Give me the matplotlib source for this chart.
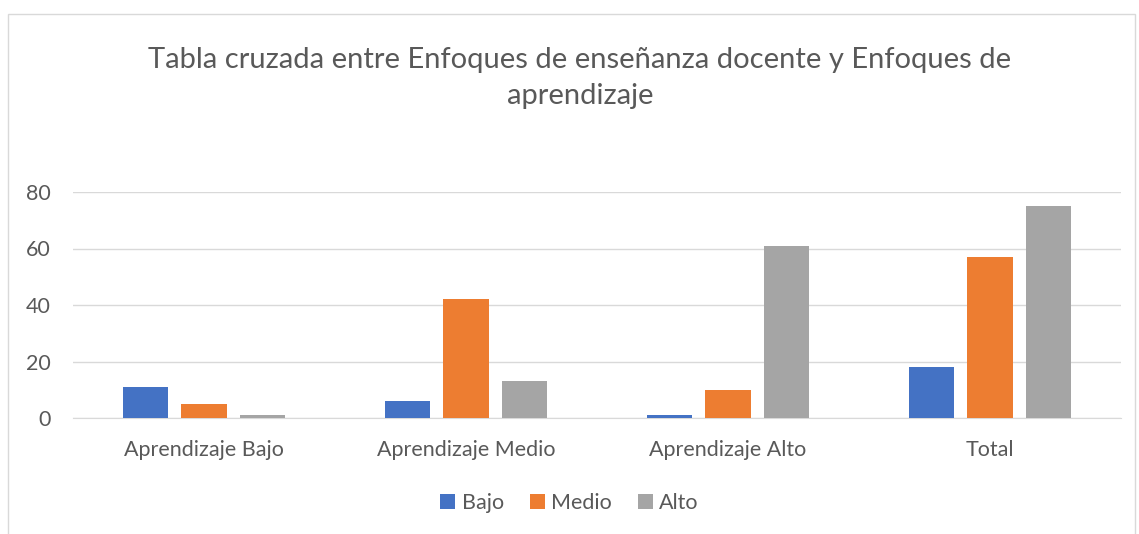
import numpy as np
import matplotlib.pyplot as plt
from matplotlib.patches import Rectangle

plt.rcParams['font.family'] = ['Lato', 'DejaVu Sans']

categories = ['Aprendizaje Bajo', 'Aprendizaje Medio', 'Aprendizaje Alto', 'Total']
series = ['Bajo', 'Medio', 'Alto']
bajo = [11, 6, 1, 18]
medio = [5, 42, 10, 57]
alto = [1, 13, 61, 75]
colors = ['#4472C4', '#ED7D31', '#A5A5A5']

fig = plt.figure(figsize=(11.39, 5.34), dpi=100)
ax = fig.add_axes([73/1139, 1 - 418/534, (1121-73)/1139, (418-192)/534])

# chart border
fig.patches.append(Rectangle((8/1139, -0.05), (1135-8)/1139, 1.05 - 14/534,
                             transform=fig.transFigure, fill=False,
                             edgecolor='#D9D9D9', linewidth=1))

x = np.arange(len(categories))
w = 0.175
step = 0.223
for i, (vals, name) in enumerate(zip([bajo, medio, alto], series)):
    ax.bar(x + (i - 1) * step, vals, w, color=colors[i], label=name, zorder=3)

ax.set_xlim(-0.5, len(categories) - 0.5)
ax.set_ylim(0, 80)
ax.set_yticks([0, 20, 40, 60, 80])
ax.set_xticks(x)
ax.set_xticklabels(categories)
ax.grid(axis='y', color='#D9D9D9', linewidth=1, zorder=0)
for s in ['top', 'right', 'left']:
    ax.spines[s].set_visible(False)
ax.spines['bottom'].set_color('#D9D9D9')
ax.tick_params(axis='both', length=0, labelsize=15.5, colors='#595959')
ax.tick_params(axis='x', pad=16)
ax.tick_params(axis='y', pad=16)

fig.text(0.509, 1 - 78/534, 'Tabla cruzada entre Enfoques de enseñanza docente y Enfoques de\naprendizaje',
         ha='center', va='center', fontsize=21, color='#595959', linespacing=1.45)

fig.legend(loc='center', bbox_to_anchor=(0.5, 1 - 503/534), ncol=3, frameon=False,
           fontsize=15.5, labelcolor='#595959', handlelength=0.7, handleheight=0.7,
           handletextpad=0.3, columnspacing=1.2)

fig.savefig('out.png', dpi=100)
